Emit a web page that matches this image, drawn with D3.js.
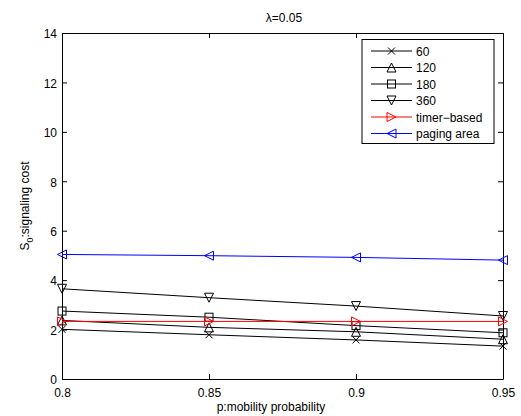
<!DOCTYPE html>
<html><head><meta charset="utf-8">
<script src="https://cdn.jsdelivr.net/npm/d3@7"></script>
<style>body{margin:0;background:#fff}svg{display:block}text{font-family:"Liberation Sans",Arial,sans-serif}</style>
</head><body>
<script>
const xValues = [0.8, 0.85, 0.9, 0.95];
const xTicks = [0.8, 0.85, 0.9, 0.95];
const yTicks = [0, 2, 4, 6, 8, 10, 12, 14];
const s60 = [2.01, 1.79, 1.58, 1.33];
const s120 = [2.37, 2.09, 1.91, 1.61];
const s180 = [2.75, 2.50, 2.16, 1.87];
const s360 = [3.65, 3.29, 2.95, 2.55];
const sTimer = [2.33, 2.33, 2.33, 2.33];
const sPaging = [5.04, 4.99, 4.92, 4.81];
const seriesNames = ["60", "120", "180", "360", "timer\u2212based", "paging area"];
const seriesData = [s60, s120, s180, s360, sTimer, sPaging];
const seriesColors = ["#000", "#000", "#000", "#000", "#ff0000", "#0000ff"];
const seriesMarkers = ["x", "tu", "sq", "td", "tr", "tl"];

const W = 521, H = 416;
const L = 62, R = 503, T = 33, B = 379;
const svg = d3.select("body").append("svg").attr("width", W).attr("height", H);
const x = d3.scaleLinear().domain([0.8, 0.95]).range([L, R]);
const y = d3.scaleLinear().domain([0, 14]).range([B, T]);

function marker(g, type, cx, cy, color) {
  const s = 4.5;
  let p;
  if (type === "x") {
    g.append("path").attr("d", `M${cx-3.5},${cy-3.5}L${cx+3.5},${cy+3.5}M${cx-3.5},${cy+3.5}L${cx+3.5},${cy-3.5}`).attr("stroke", color).attr("fill", "none");
    return;
  }
  if (type === "sq") { g.append("rect").attr("x", cx-4).attr("y", cy-4).attr("width", 8).attr("height", 8).attr("fill", "none").attr("stroke", color); return; }
  if (type === "tu") p = [[cx, cy-s], [cx-s, cy+s], [cx+s, cy+s]];
  if (type === "td") p = [[cx, cy+s], [cx-s, cy-s], [cx+s, cy-s]];
  if (type === "tr") p = [[cx+s, cy], [cx-s, cy-s], [cx-s, cy+s]];
  if (type === "tl") p = [[cx-s, cy], [cx+s, cy-s], [cx+s, cy+s]];
  g.append("path").attr("d", "M" + p.map(d => d.join(",")).join("L") + "Z").attr("fill", "none").attr("stroke", color);
}

// axes box
const xAxisB = d3.axisBottom(x).tickValues(xTicks).tickFormat(d3.format("")).tickSizeInner(-5).tickSizeOuter(0).tickPadding(9);
const gxb = svg.append("g").attr("transform", `translate(0,${B})`).call(xAxisB);
const xAxisT = d3.axisTop(x).tickValues(xTicks).tickFormat("").tickSizeInner(-5).tickSizeOuter(0);
const gxt = svg.append("g").attr("transform", `translate(0,${T})`).call(xAxisT);
const yAxisL = d3.axisLeft(y).tickValues(yTicks).tickSizeInner(-5).tickSizeOuter(0).tickPadding(5);
const gyl = svg.append("g").attr("transform", `translate(${L},0)`).call(yAxisL);
const yAxisR = d3.axisRight(y).tickValues(yTicks).tickFormat("").tickSizeInner(-5).tickSizeOuter(0);
const gyr = svg.append("g").attr("transform", `translate(${R},0)`).call(yAxisR);
[gxb, gxt, gyl, gyr].forEach(g => {
  g.selectAll("path.domain").attr("stroke", "#000").attr("stroke-width", 1);
  g.selectAll("line").attr("stroke", "#000");
  g.selectAll("text").attr("font-size", 12).attr("fill", "#000").style("font-family", "Liberation Sans, Arial, sans-serif");
});
gyl.selectAll("text").attr("dy", "0.4em");

// series
const line = d3.line().x((d, i) => x(xValues[i])).y(d => y(d));
seriesData.forEach((data, k) => {
  const g = svg.append("g");
  g.append("path").attr("d", line(data)).attr("fill", "none").attr("stroke", seriesColors[k]).attr("stroke-width", 1);
  data.forEach((v, i) => marker(g, seriesMarkers[k], x(xValues[i]), y(v), seriesColors[k]));
});

// legend
const lg = svg.append("g");
lg.append("rect").attr("x", 362).attr("y", 39.5).attr("width", 132).attr("height", 104).attr("fill", "#fff").attr("stroke", "#000");
seriesNames.forEach((name, k) => {
  const ly = 51 + k * 16.5;
  lg.append("line").attr("x1", 371).attr("x2", 412).attr("y1", ly).attr("y2", ly).attr("stroke", seriesColors[k]);
  marker(lg, seriesMarkers[k], 391.5, ly, seriesColors[k]);
  lg.append("text").attr("x", 416).attr("y", ly + 4.5).attr("font-size", 12).text(name);
});

// title and labels
svg.append("text").attr("x", 284).attr("y", 21.5).attr("text-anchor", "middle").attr("font-size", 12).text("\u03bb=0.05");
svg.append("text").attr("x", 271).attr("y", 411).attr("text-anchor", "middle").attr("font-size", 12).text("p:mobility probability");
const yl = svg.append("text").attr("transform", `translate(29,${(T + B) / 2}) rotate(-90)`).attr("text-anchor", "middle").attr("font-size", 12);
yl.append("tspan").text("S");
yl.append("tspan").attr("dy", 4).attr("font-size", 9).text("0");
yl.append("tspan").attr("dy", -4).text(":signaling cost");
</script>
</body></html>
